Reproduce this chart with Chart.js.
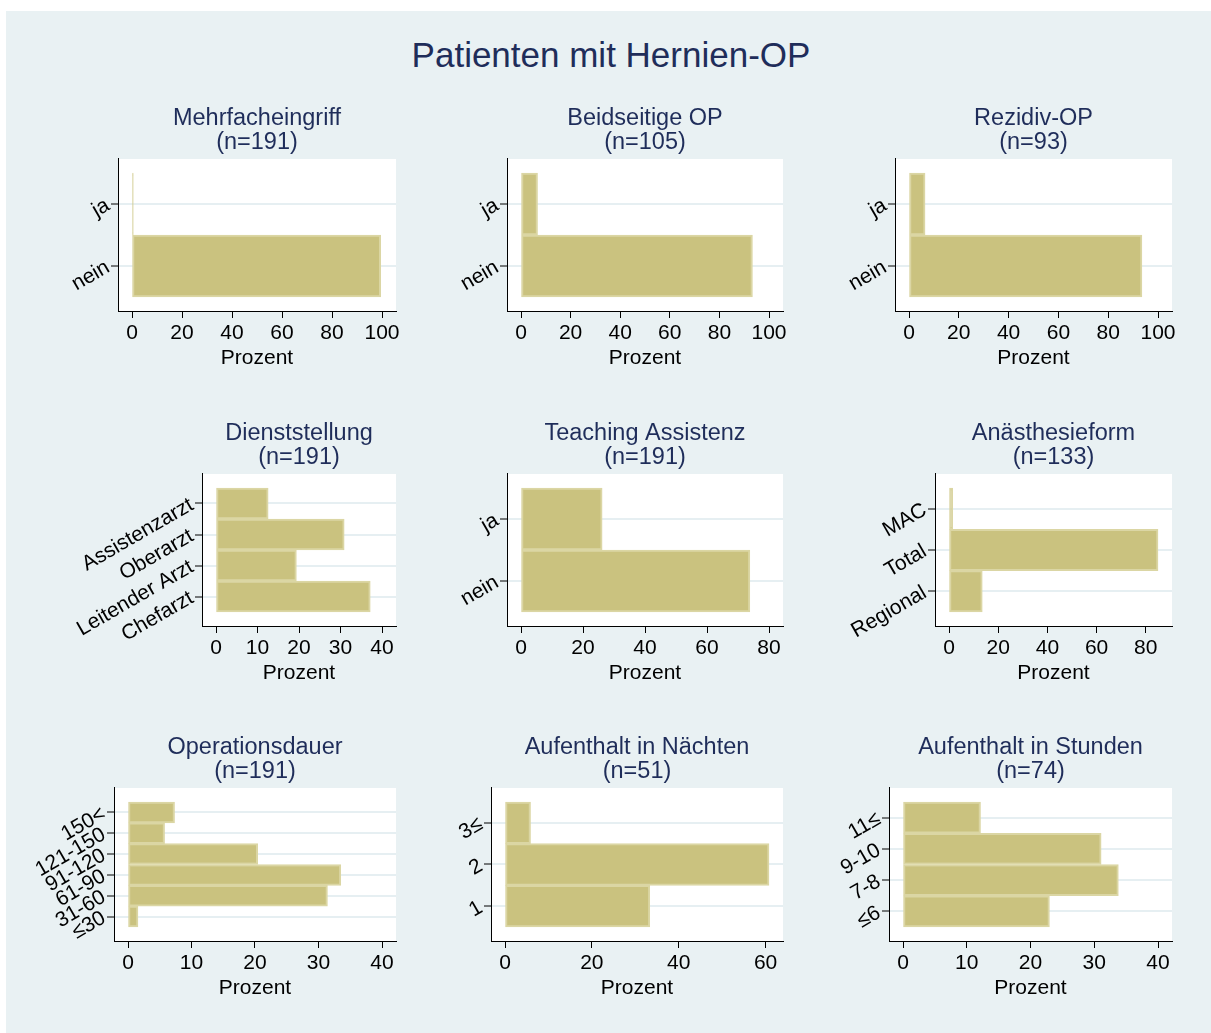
<!DOCTYPE html>
<html>
<head>
<meta charset="utf-8">
<script src="https://cdn.jsdelivr.net/npm/chart.js@4.4.1/dist/chart.umd.min.js"></script>
<style>
  body { margin: 0; background: #fff; width: 1211px; height: 1033px; position: relative; overflow: hidden;
         font-family: "Liberation Sans", Arial, Helvetica, sans-serif; }
  #bg { position: absolute; left: 6px; top: 11px; width: 1205px; height: 1022px; background: #e9f1f3; }
  #title { position: absolute; left: 0; width: 1222px; top: 35px; line-height: 40px; text-align: center;
           font-size: 35px; color: #1f2d5a; }
  canvas { position: absolute; }
</style>
</head>
<body>
<div id="bg"></div>
<div id="title">Patienten mit Hernien-OP</div>
<script>
// categories are listed top to bottom, values in percent
const catMehrfach = ["ja", "nein"];
const pctMehrfach = [0.52, 99.48];
const catBeidseitig = ["ja", "nein"];
const pctBeidseitig = [6.67, 93.33];
const catRezidiv = ["ja", "nein"];
const pctRezidiv = [6.45, 93.55];
const catDienst = ["Assistenzarzt", "Oberarzt", "Leitender Arzt", "Chefarzt"];
const pctDienst = [12.57, 30.89, 19.37, 37.17];
const catTeaching = ["ja", "nein"];
const pctTeaching = [26.18, 73.82];
const catAnaesth = ["MAC", "Total", "Regional"];
const pctAnaesth = [1.50, 84.96, 13.53];
const catOpDauer = ["150<", "121-150", "91-120", "61-90", "31-60", "≤30"];
const pctOpDauer = [7.33, 5.76, 20.42, 33.51, 31.41, 1.57];
const catNaechte = ["3≤", "2", "1"];
const pctNaechte = [5.88, 60.78, 33.33];
const catStunden = ["11≤", "9-10", "7-8", "≤6"];
const pctStunden = [12.16, 31.08, 33.78, 22.97];

const ticks100 = [0, 20, 40, 60, 80, 100];
const ticks80 = [0, 20, 40, 60, 80];
const ticks60 = [0, 20, 40, 60];
const ticks40 = [0, 10, 20, 30, 40];

const panels = [
  { title: "Mehrfacheingriff", n: 191, cats: catMehrfach, vals: pctMehrfach, ticks: ticks100 },
  { title: "Beidseitige OP", n: 105, cats: catBeidseitig, vals: pctBeidseitig, ticks: ticks100 },
  { title: "Rezidiv-OP", n: 93, cats: catRezidiv, vals: pctRezidiv, ticks: ticks100 },
  { title: "Dienststellung", n: 191, cats: catDienst, vals: pctDienst, ticks: ticks40 },
  { title: "Teaching Assistenz", n: 191, cats: catTeaching, vals: pctTeaching, ticks: ticks80 },
  { title: "Anästhesieform", n: 133, cats: catAnaesth, vals: pctAnaesth, ticks: ticks80 },
  { title: "Operationsdauer", n: 191, cats: catOpDauer, vals: pctOpDauer, ticks: ticks40 },
  { title: "Aufenthalt in Nächten", n: 51, cats: catNaechte, vals: pctNaechte, ticks: ticks60 },
  { title: "Aufenthalt in Stunden", n: 74, cats: catStunden, vals: pctStunden, ticks: ticks40 },
];

// plot region boxes [left, top, right, bottom] and canvas left edge per column
const boxes = [
  [118, 159, 396, 311], [507, 159, 783, 311], [895, 159, 1172, 311],
  [202, 474, 396, 626], [507, 474, 783, 626], [935, 474, 1172, 626],
  [114, 788, 396, 941], [491, 788, 783, 941], [889, 788, 1172, 941],
];
const colStart = [10, 400, 790];

const FONT = '"Liberation Sans", Arial, Helvetica, sans-serif';
const NAVY = "#1f2d5a";
const MARGIN = 14;     // inner margin of plot region
const TITLE_H = 64;
const XAXIS_H = 62;
const PAD_R = 15;

Chart.defaults.font.family = FONT;
Chart.defaults.color = "#000";

const whiteArea = {
  id: "whiteArea",
  beforeDraw(chart) {
    const a = chart.chartArea, ctx = chart.ctx;
    ctx.save();
    ctx.fillStyle = "#fff";
    ctx.fillRect(a.left, a.top, a.right - a.left, a.bottom - a.top);
    ctx.restore();
  }
};

function drawPanel(p, box, col) {
  const [l, t, r, b] = box;
  const yW = l - col;
  const cv = document.createElement("canvas");
  cv.width = yW + (r - l) + PAD_R;
  cv.height = TITLE_H + (b - t) + XAXIS_H;
  cv.style.left = col + "px";
  cv.style.top = (t - TITLE_H) + "px";
  document.body.appendChild(cv);

  const n = p.cats.length;
  const yPad = MARGIN / ((b - t - 2 * MARGIN) / n);
  const top = Math.max(p.ticks[p.ticks.length - 1], Math.max(...p.vals));
  const xPad = MARGIN / ((r - l - 2 * MARGIN) / top);
  const data = p.vals.map((v, i) => ({ x: v, y: n - 1 - i }));
  const yPos = p.cats.map((c, i) => n - 1 - i);

  new Chart(cv, {
    type: "bar",
    data: {
      datasets: [{
        data: data,
        backgroundColor: "#cac27f",
        borderColor: "#dbd6a4",
        borderWidth: 2,
        borderSkipped: false,
        categoryPercentage: 1,
        barPercentage: 1,
      }]
    },
    options: {
      indexAxis: "y",
      responsive: false,
      animation: false,
      layout: { padding: { left: 0, right: PAD_R, top: 0, bottom: 0 } },
      plugins: {
        legend: { display: false },
        tooltip: { enabled: false },
        title: {
          display: true,
          fullSize: false,
          text: [p.title, "(n=" + p.n + ")"],
          color: NAVY,
          font: { size: 23.5, weight: "normal", lineHeight: 24 / 23.5 },
          padding: { top: 12, bottom: 4 },
        },
      },
      scales: {
        x: {
          type: "linear",
          min: -xPad,
          max: top + xPad,
          afterBuildTicks: s => { s.ticks = p.ticks.map(v => ({ value: v })); },
          afterFit: s => { s.height = XAXIS_H; },
          ticks: { font: { size: 21 }, color: "#000", padding: 3, maxRotation: 0 },
          grid: { drawOnChartArea: false, tickLength: 7, tickColor: "#000", tickWidth: 1 },
          border: { display: true, color: "#000", width: 1 },
          title: { display: true, text: "Prozent", color: "#000", font: { size: 21 }, padding: { top: 0, bottom: 2 } },
        },
        y: {
          type: "linear",
          offset: false,
          min: -0.5 - yPad,
          max: n - 0.5 + yPad,
          afterBuildTicks: s => { s.ticks = yPos.map(v => ({ value: v })); },
          afterFit: s => { s.width = yW; },
          ticks: {
            font: { size: 21 }, color: "#000", padding: 3, minRotation: 30, maxRotation: 30,
            autoSkip: false,
            callback: v => p.cats[n - 1 - v],
          },
          grid: { offset: false, color: "#e6eff2", lineWidth: 2, tickLength: 7, tickColor: "#000", tickWidth: 1 },
          border: { display: true, color: "#000", width: 1 },
        },
      },
    },
    plugins: [whiteArea],
  });
}

panels.forEach((p, i) => drawPanel(p, boxes[i], colStart[i % 3]));
</script>
</body>
</html>
